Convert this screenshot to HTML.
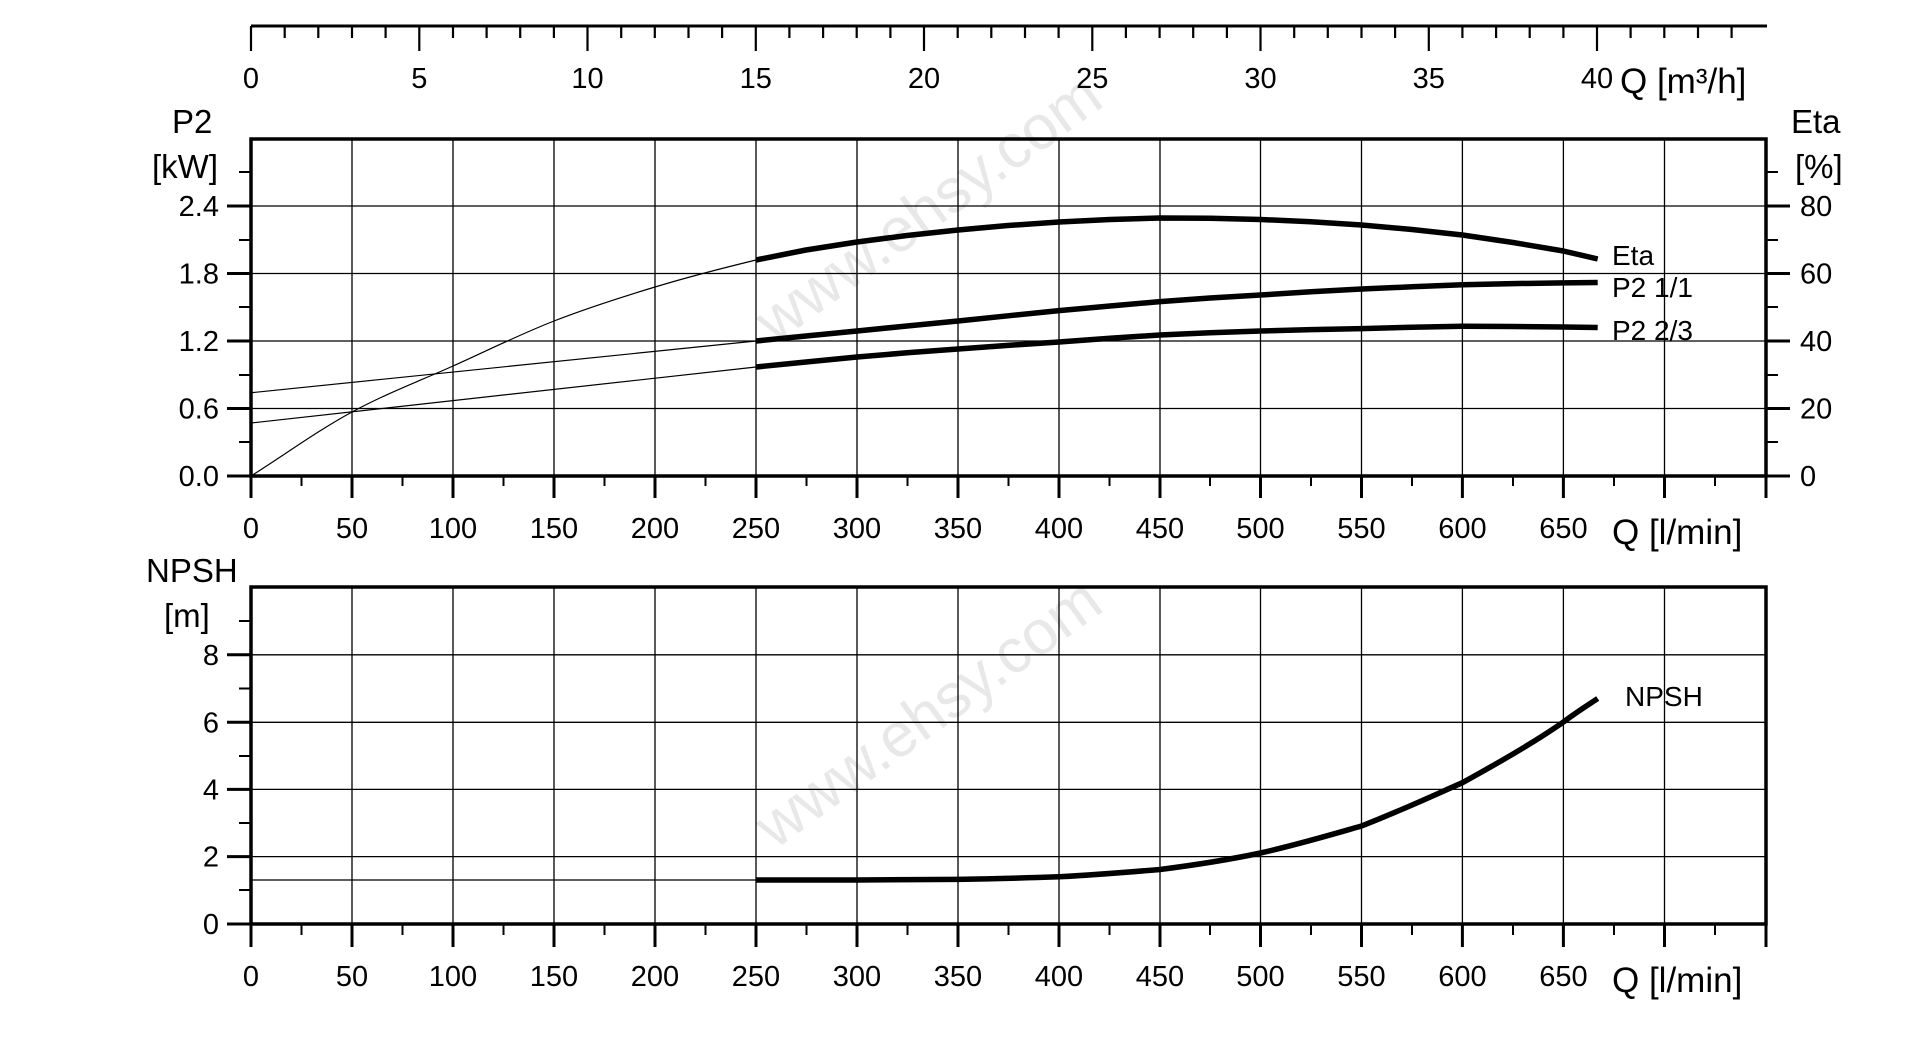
<!DOCTYPE html>
<html><head><meta charset="utf-8"><style>
html,body{margin:0;padding:0;background:#fff;}
svg{display:block;}
text{font-family:"Liberation Sans",sans-serif;fill:#000;}
</style></head><body>
<svg width="1907" height="1037" viewBox="0 0 1907 1037" xmlns="http://www.w3.org/2000/svg">
<!-- watermarks -->
<g font-size="62" font-family="Liberation Sans,sans-serif">
<text x="0" y="0" transform="translate(775,345) rotate(-36)" style="fill:#e8e8e8">www.ehsy.com</text>
<text x="0" y="0" transform="translate(775,850) rotate(-36)" style="fill:#e8e8e8">www.ehsy.com</text>
</g>

<!-- Top m3/h axis -->
<line x1="251" y1="26" x2="1767" y2="26" stroke="#000" stroke-width="3"/>
<g stroke="#000" stroke-width="2.2">
<path d="M251 26V51M419.3 26V51M587.5 26V51M755.8 26V51M924 26V51M1092.3 26V51M1260.5 26V51M1428.8 26V51M1597 26V51"/>
<path d="M284.7 26V38M318.3 26V38M352 26V38M385.6 26V38M453 26V38M486.6 26V38M520.2 26V38M553.9 26V38M621.2 26V38M654.8 26V38M688.5 26V38M722.1 26V38M789.4 26V38M823.1 26V38M856.7 26V38M890.4 26V38M957.7 26V38M991.3 26V38M1025 26V38M1058.6 26V38M1125.9 26V38M1159.6 26V38M1193.2 26V38M1226.9 26V38M1294.2 26V38M1327.8 26V38M1361.5 26V38M1395.1 26V38M1462.4 26V38M1496.1 26V38M1529.7 26V38M1563.4 26V38M1630.6 26V38M1664.3 26V38M1698 26V38M1731.6 26V38"/>
</g>
<g font-size="29" text-anchor="middle">
<text x="251" y="88">0</text><text x="419.3" y="88">5</text><text x="587.5" y="88">10</text><text x="755.8" y="88">15</text><text x="924" y="88">20</text><text x="1092.3" y="88">25</text><text x="1260.5" y="88">30</text><text x="1428.8" y="88">35</text><text x="1597" y="88">40</text>
</g>
<text x="1620" y="93" font-size="35">Q [m³/h]</text>

<!-- Upper plot grid -->
<g stroke="#000" stroke-width="1.3">
<path d="M352 139V476M453 139V476M554 139V476M655 139V476M756 139V476M857 139V476M958 139V476M1059 139V476M1160 139V476M1260.5 139V476M1361.5 139V476M1462.4 139V476M1563.4 139V476M1664.5 139V476"/>
<path d="M251 206H1766M251 273.5H1766M251 341H1766M251 408.5H1766"/>
</g>
<rect x="251" y="139" width="1515" height="337" fill="none" stroke="#000" stroke-width="3.5"/>
<g stroke="#000" stroke-width="3">
<path d="M227 206H251M227 273.5H251M227 341H251M227 408.5H251M227 476H251"/>
<path d="M1766 206H1790M1766 273.5H1790M1766 341H1790M1766 408.5H1790M1766 476H1790"/>
<path d="M251 476V498M352 476V498M453 476V498M554 476V498M655 476V498M756 476V498M857 476V498M958 476V498M1059 476V498M1160 476V498M1260.5 476V498M1361.5 476V498M1462.4 476V498M1563.4 476V498M1664.5 476V498M1766 476V498"/>
</g>
<g stroke="#000" stroke-width="2">
<path d="M239 172H251M239 240H251M239 307H251M239 375H251M239 442H251"/>
<path d="M1766 172H1778M1766 240H1778M1766 307H1778M1766 375H1778M1766 442H1778"/>
<path d="M301.5 476V486M402.5 476V486M503.5 476V486M604.5 476V486M705.5 476V486M806.5 476V486M907.5 476V486M1008.5 476V486M1109.5 476V486M1210 476V486M1311 476V486M1412 476V486M1513 476V486M1614 476V486M1715 476V486"/>
</g>
<g font-size="29" text-anchor="end">
<text x="219" y="216">2.4</text><text x="219" y="283.5">1.8</text><text x="219" y="351">1.2</text><text x="219" y="418.5">0.6</text><text x="219" y="486">0.0</text>
</g>
<g font-size="29">
<text x="1800" y="216">80</text><text x="1800" y="283.5">60</text><text x="1800" y="351">40</text><text x="1800" y="418.5">20</text><text x="1800" y="486">0</text>
</g>
<text x="172" y="133" font-size="33">P2</text>
<text x="152" y="178" font-size="33">[kW]</text>
<text x="1791" y="133" font-size="33">Eta</text>
<text x="1795" y="178" font-size="33">[%]</text>
<g font-size="29" text-anchor="middle">
<text x="251" y="538">0</text><text x="352" y="538">50</text><text x="453" y="538">100</text><text x="554" y="538">150</text><text x="655" y="538">200</text><text x="756" y="538">250</text><text x="857" y="538">300</text><text x="958" y="538">350</text><text x="1059" y="538">400</text><text x="1160" y="538">450</text><text x="1260.5" y="538">500</text><text x="1361.5" y="538">550</text><text x="1462.4" y="538">600</text><text x="1563.4" y="538">650</text>
</g>
<text x="1612" y="544" font-size="35">Q [l/min]</text>

<!-- Upper curves thin -->
<g fill="none" stroke="#000" stroke-width="1.2">
<path d="M251 476 C284.7 454.7 318.3 430.3 352 412 C385.7 393.7 419.3 381.2 453 366 C486.7 350.8 520.3 334.2 554 321 C587.7 307.8 621.3 297.2 655 287 C688.7 276.8 722.3 268.2 756 260"/>
<path d="M251 392.75 L756 341"/>
<path d="M251 423 L756 367"/>
</g>
<!-- Upper curves thick -->
<g fill="none" stroke="#000" stroke-width="5.5" stroke-linejoin="round">
<polyline points="756,260 806,250 857,242 907,235.5 958,230 1008,225.5 1059,222 1110,219.5 1160,218 1210,218.3 1260.5,219.5 1311,221.8 1361.5,225 1412,229.5 1462.4,235 1513,242.5 1563.4,251 1597.7,259"/>
<polyline points="756,341 806,336 857,331 907,326 958,321 1008,315.8 1059,310.6 1110,306 1160,301.6 1210,298 1260.5,295 1311,291.8 1361.5,289 1412,286.8 1462.4,284.8 1513,283.6 1563.4,282.9 1597.7,282.5"/>
<polyline points="756,367 806,362 857,357 907,352.8 958,349 1008,345.4 1059,342 1110,338.3 1160,335 1210,332.8 1260.5,331 1311,329.6 1361.5,328.6 1412,327.2 1462.4,326.3 1513,326.5 1563.4,327 1597.7,327.5"/>
</g>
<g font-size="28">
<text x="1612" y="265">Eta</text>
<text x="1612" y="297">P2 1/1</text>
<text x="1612" y="340">P2 2/3</text>
</g>

<!-- Lower plot -->
<g stroke="#000" stroke-width="1.3">
<path d="M352 587V924M453 587V924M554 587V924M655 587V924M756 587V924M857 587V924M958 587V924M1059 587V924M1160 587V924M1260.5 587V924M1361.5 587V924M1462.4 587V924M1563.4 587V924M1664.5 587V924"/>
<path d="M251 654.8H1766M251 722.3H1766M251 789.4H1766M251 856.6H1766"/>
</g>
<rect x="251" y="587" width="1515" height="337" fill="none" stroke="#000" stroke-width="3.5"/>
<g stroke="#000" stroke-width="3">
<path d="M227 654.8H251M227 722.3H251M227 789.4H251M227 856.6H251M227 924H251"/>
<path d="M251 924V947M352 924V947M453 924V947M554 924V947M655 924V947M756 924V947M857 924V947M958 924V947M1059 924V947M1160 924V947M1260.5 924V947M1361.5 924V947M1462.4 924V947M1563.4 924V947M1664.5 924V947M1766 924V947"/>
</g>
<g stroke="#000" stroke-width="2">
<path d="M239 621H251M239 688.5H251M239 756H251M239 823H251M239 890H251"/>
<path d="M301.5 924V935M402.5 924V935M503.5 924V935M604.5 924V935M705.5 924V935M806.5 924V935M907.5 924V935M1008.5 924V935M1109.5 924V935M1210 924V935M1311 924V935M1412 924V935M1513 924V935M1614 924V935M1715 924V935"/>
</g>
<g font-size="29" text-anchor="end">
<text x="219" y="664.8">8</text><text x="219" y="732.3">6</text><text x="219" y="799.4">4</text><text x="219" y="866.6">2</text><text x="219" y="934">0</text>
</g>
<text x="146" y="582" font-size="33">NPSH</text>
<text x="164" y="627" font-size="33">[m]</text>
<g font-size="29" text-anchor="middle">
<text x="251" y="986">0</text><text x="352" y="986">50</text><text x="453" y="986">100</text><text x="554" y="986">150</text><text x="655" y="986">200</text><text x="756" y="986">250</text><text x="857" y="986">300</text><text x="958" y="986">350</text><text x="1059" y="986">400</text><text x="1160" y="986">450</text><text x="1260.5" y="986">500</text><text x="1361.5" y="986">550</text><text x="1462.4" y="986">600</text><text x="1563.4" y="986">650</text>
</g>
<text x="1612" y="992" font-size="35">Q [l/min]</text>

<path d="M251 880 L756 880" fill="none" stroke="#000" stroke-width="1.2"/>
<path fill="none" stroke="#000" stroke-width="5.5" d="M756 880 L857 880 C900 879.8 930 879.6 958 879.4 C1000 878.8 1030 877.8 1059 876.8 C1100 874.5 1130 872 1160 869.5 C1195 865 1230 859.5 1260.5 853 C1300 844 1330 835 1361.5 826 C1400 811 1430 797 1462.4 782.7 C1500 762 1535 742 1563.4 722 C1578 711 1588 705 1597.7 698.5"/>
<text x="1625" y="706" font-size="28">NPSH</text>
</svg>
</body></html>
